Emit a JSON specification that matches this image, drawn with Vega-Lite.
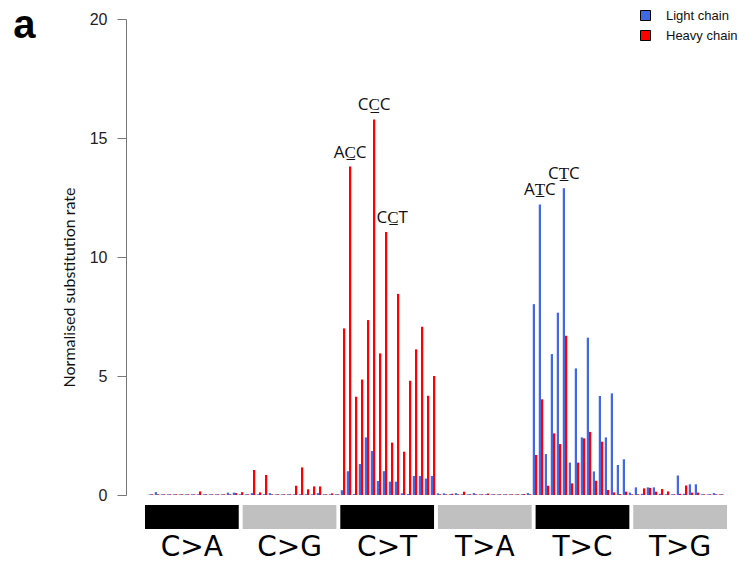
{
  "$schema": "https://vega.github.io/schema/vega-lite/v6.json",
  "padding": {"left": 13, "top": 6, "right": 5, "bottom": 3},
  "background": "white",
  "title": {"text": "a", "anchor": "start", "frame": "bounds", "fontSize": 40, "fontWeight": "bold", "font": "Liberation Sans", "color": "#000", "baseline": "top", "offset": -37, "dx": -48},
  "datasets": {
    "subs": [
      {"id": "C>A ACA", "Light chain": 0.03, "Heavy chain": 0.03},
      {"id": "C>A ACC", "Light chain": 0.12, "Heavy chain": 0.03},
      {"id": "C>A ACG", "Light chain": 0.03, "Heavy chain": 0.03},
      {"id": "C>A ACT", "Light chain": 0.03, "Heavy chain": 0.03},
      {"id": "C>A CCA", "Light chain": 0.03, "Heavy chain": 0.03},
      {"id": "C>A CCC", "Light chain": 0.03, "Heavy chain": 0.03},
      {"id": "C>A CCG", "Light chain": 0.03, "Heavy chain": 0.03},
      {"id": "C>A CCT", "Light chain": 0.03, "Heavy chain": 0.03},
      {"id": "C>A GCA", "Light chain": 0.03, "Heavy chain": 0.15},
      {"id": "C>A GCC", "Light chain": 0.03, "Heavy chain": 0.03},
      {"id": "C>A GCG", "Light chain": 0.03, "Heavy chain": 0.03},
      {"id": "C>A GCT", "Light chain": 0.03, "Heavy chain": 0.03},
      {"id": "C>A TCA", "Light chain": 0.03, "Heavy chain": 0.03},
      {"id": "C>A TCC", "Light chain": 0.1, "Heavy chain": 0.03},
      {"id": "C>A TCG", "Light chain": 0.1, "Heavy chain": 0.08},
      {"id": "C>A TCT", "Light chain": 0.03, "Heavy chain": 0.12},
      {"id": "C>G ACA", "Light chain": 0.03, "Heavy chain": 0.03},
      {"id": "C>G ACC", "Light chain": 0.08, "Heavy chain": 1.05},
      {"id": "C>G ACG", "Light chain": 0.03, "Heavy chain": 0.11},
      {"id": "C>G ACT", "Light chain": 0.03, "Heavy chain": 0.84},
      {"id": "C>G CCA", "Light chain": 0.08, "Heavy chain": 0.03},
      {"id": "C>G CCC", "Light chain": 0.03, "Heavy chain": 0.03},
      {"id": "C>G CCG", "Light chain": 0.03, "Heavy chain": 0.03},
      {"id": "C>G CCT", "Light chain": 0.03, "Heavy chain": 0.03},
      {"id": "C>G GCA", "Light chain": 0.03, "Heavy chain": 0.39},
      {"id": "C>G GCC", "Light chain": 0.03, "Heavy chain": 1.16},
      {"id": "C>G GCG", "Light chain": 0.03, "Heavy chain": 0.24},
      {"id": "C>G GCT", "Light chain": 0.03, "Heavy chain": 0.36},
      {"id": "C>G TCA", "Light chain": 0.08, "Heavy chain": 0.36},
      {"id": "C>G TCC", "Light chain": 0.03, "Heavy chain": 0.03},
      {"id": "C>G TCG", "Light chain": 0.03, "Heavy chain": 0.07},
      {"id": "C>G TCT", "Light chain": 0.03, "Heavy chain": 0.03},
      {"id": "C>T ACA", "Light chain": 0.2, "Heavy chain": 7.0},
      {"id": "C>T ACC", "Light chain": 1.0, "Heavy chain": 13.8},
      {"id": "C>T ACG", "Light chain": 0.04, "Heavy chain": 4.13},
      {"id": "C>T ACT", "Light chain": 1.3, "Heavy chain": 4.85},
      {"id": "C>T CCA", "Light chain": 2.42, "Heavy chain": 7.35},
      {"id": "C>T CCC", "Light chain": 1.85, "Heavy chain": 15.78},
      {"id": "C>T CCG", "Light chain": 0.59, "Heavy chain": 5.95},
      {"id": "C>T CCT", "Light chain": 1.0, "Heavy chain": 11.05},
      {"id": "C>T GCA", "Light chain": 0.56, "Heavy chain": 2.2},
      {"id": "C>T GCC", "Light chain": 0.56, "Heavy chain": 8.45},
      {"id": "C>T GCG", "Light chain": 0.07, "Heavy chain": 1.82},
      {"id": "C>T GCT", "Light chain": 0.04, "Heavy chain": 4.8},
      {"id": "C>T TCA", "Light chain": 0.8, "Heavy chain": 6.12},
      {"id": "C>T TCC", "Light chain": 0.8, "Heavy chain": 7.07},
      {"id": "C>T TCG", "Light chain": 0.69, "Heavy chain": 4.17},
      {"id": "C>T TCT", "Light chain": 0.8, "Heavy chain": 5.0},
      {"id": "T>A ATA", "Light chain": 0.07, "Heavy chain": 0.03},
      {"id": "T>A ATC", "Light chain": 0.07, "Heavy chain": 0.03},
      {"id": "T>A ATG", "Light chain": 0.03, "Heavy chain": 0.05},
      {"id": "T>A ATT", "Light chain": 0.08, "Heavy chain": 0.03},
      {"id": "T>A CTA", "Light chain": 0.03, "Heavy chain": 0.14},
      {"id": "T>A CTC", "Light chain": 0.03, "Heavy chain": 0.03},
      {"id": "T>A CTG", "Light chain": 0.08, "Heavy chain": 0.03},
      {"id": "T>A CTT", "Light chain": 0.03, "Heavy chain": 0.03},
      {"id": "T>A GTA", "Light chain": 0.03, "Heavy chain": 0.06},
      {"id": "T>A GTC", "Light chain": 0.03, "Heavy chain": 0.03},
      {"id": "T>A GTG", "Light chain": 0.03, "Heavy chain": 0.03},
      {"id": "T>A GTT", "Light chain": 0.03, "Heavy chain": 0.03},
      {"id": "T>A TTA", "Light chain": 0.03, "Heavy chain": 0.03},
      {"id": "T>A TTC", "Light chain": 0.03, "Heavy chain": 0.03},
      {"id": "T>A TTG", "Light chain": 0.03, "Heavy chain": 0.04},
      {"id": "T>A TTT", "Light chain": 0.08, "Heavy chain": 0.03},
      {"id": "T>C ATA", "Light chain": 8.02, "Heavy chain": 1.68},
      {"id": "T>C ATC", "Light chain": 12.21, "Heavy chain": 4.02},
      {"id": "T>C ATG", "Light chain": 1.72, "Heavy chain": 0.39},
      {"id": "T>C ATT", "Light chain": 5.92, "Heavy chain": 2.59},
      {"id": "T>C CTA", "Light chain": 7.66, "Heavy chain": 2.14},
      {"id": "T>C CTC", "Light chain": 12.89, "Heavy chain": 6.69},
      {"id": "T>C CTG", "Light chain": 1.36, "Heavy chain": 0.49},
      {"id": "T>C CTT", "Light chain": 5.32, "Heavy chain": 1.36},
      {"id": "T>C GTA", "Light chain": 2.42, "Heavy chain": 2.38},
      {"id": "T>C GTC", "Light chain": 6.61, "Heavy chain": 2.65},
      {"id": "T>C GTG", "Light chain": 0.99, "Heavy chain": 0.6},
      {"id": "T>C GTT", "Light chain": 4.16, "Heavy chain": 2.24},
      {"id": "T>C TTA", "Light chain": 2.42, "Heavy chain": 0.21},
      {"id": "T>C TTC", "Light chain": 4.27, "Heavy chain": 0.11},
      {"id": "T>C TTG", "Light chain": 1.26, "Heavy chain": 0.04},
      {"id": "T>C TTT", "Light chain": 1.5, "Heavy chain": 0.14},
      {"id": "T>G ATA", "Light chain": 0.1, "Heavy chain": 0.03},
      {"id": "T>G ATC", "Light chain": 0.32, "Heavy chain": 0.03},
      {"id": "T>G ATG", "Light chain": 0.05, "Heavy chain": 0.28},
      {"id": "T>G ATT", "Light chain": 0.32, "Heavy chain": 0.3},
      {"id": "T>G CTA", "Light chain": 0.32, "Heavy chain": 0.14},
      {"id": "T>G CTC", "Light chain": 0.05, "Heavy chain": 0.25},
      {"id": "T>G CTG", "Light chain": 0.03, "Heavy chain": 0.15},
      {"id": "T>G CTT", "Light chain": 0.03, "Heavy chain": 0.03},
      {"id": "T>G GTA", "Light chain": 0.82, "Heavy chain": 0.05},
      {"id": "T>G GTC", "Light chain": 0.05, "Heavy chain": 0.4},
      {"id": "T>G GTG", "Light chain": 0.45, "Heavy chain": 0.1},
      {"id": "T>G GTT", "Light chain": 0.45, "Heavy chain": 0.1},
      {"id": "T>G TTA", "Light chain": 0.03, "Heavy chain": 0.03},
      {"id": "T>G TTC", "Light chain": 0.03, "Heavy chain": 0.03},
      {"id": "T>G TTG", "Light chain": 0.08, "Heavy chain": 0.03},
      {"id": "T>G TTT", "Light chain": 0.03, "Heavy chain": 0.03}
    ],
    "labels": [
      {"id": "C>T ACC", "chain": "Heavy chain", "rate": 13.8, "label": "AC̲C", "shift": "none"},
      {"id": "C>T CCC", "chain": "Heavy chain", "rate": 15.78, "label": "CC̲C", "shift": "none"},
      {"id": "C>T CCT", "chain": "Heavy chain", "rate": 11.05, "label": "CC̲T", "shift": "right"},
      {"id": "T>C ATC", "chain": "Light chain", "rate": 12.21, "label": "AT̲C", "shift": "none"},
      {"id": "T>C CTC", "chain": "Light chain", "rate": 12.89, "label": "CT̲C", "shift": "none"}
    ],
    "types": [
      {"sub": "C>A", "shade": "dark"},
      {"sub": "C>G", "shade": "light"},
      {"sub": "C>T", "shade": "dark"},
      {"sub": "T>A", "shade": "light"},
      {"sub": "T>C", "shade": "dark"},
      {"sub": "T>G", "shade": "light"}
    ]
  },
  "resolve": {"scale": {"color": "independent", "x": "independent"}, "legend": {"color": "independent"}},
  "vconcat": [
    {
      "width": 582,
      "height": 476,
      "layer": [
        {
          "data": {"name": "subs"},
          "transform": [{"fold": ["Light chain", "Heavy chain"], "as": ["chain", "rate"]}],
          "mark": {"type": "bar"},
          "encoding": {
            "x": {"field": "id", "type": "nominal", "sort": null, "scale": {"paddingInner": 0.25, "paddingOuter": 0.625}, "axis": null},
            "xOffset": {"field": "chain", "type": "nominal", "sort": ["Light chain", "Heavy chain"]},
            "y": {"field": "rate", "type": "quantitative", "scale": {"domain": [0, 20]},
              "axis": {"values": [0, 5, 10, 15, 20], "offset": 19, "tickSize": 9, "labelPadding": 10, "labelFontSize": 16, "labelFont": "Liberation Sans", "labelColor": "#222", "domainColor": "#777", "tickColor": "#777", "grid": false, "title": "Normalised substitution rate", "titleFontSize": 16, "titleFont": "Lato", "titleFontWeight": "normal", "titleColor": "#111", "titlePadding": 12, "titleY": 268}},
            "color": {"field": "chain", "type": "nominal", "scale": {"domain": ["Light chain", "Heavy chain"], "range": ["#4169e1", "#ff0000"]},
              "legend": {"orient": "none", "legendX": 494, "legendY": -10, "title": null, "symbolType": "square", "symbolSize": 100, "symbolStrokeColor": "#000", "symbolStrokeWidth": 1, "symbolOpacity": 1, "labelFontSize": 13, "labelFont": "Liberation Sans", "labelColor": "#111", "rowPadding": 5, "labelOffset": 14, "padding": 0}}
          }
        },
        {
          "data": {"name": "labels"},
          "transform": [{"filter": "datum.shift == 'none'"}],
          "mark": {"type": "text", "baseline": "alphabetic", "dy": -9, "fontSize": 17, "font": "Open Sans", "color": "#111"},
          "encoding": {
            "x": {"field": "id", "type": "nominal", "sort": null},
            "xOffset": {"field": "chain", "type": "nominal", "sort": ["Light chain", "Heavy chain"]},
            "y": {"field": "rate", "type": "quantitative"},
            "text": {"field": "label"}
          }
        },
        {
          "data": {"name": "labels"},
          "transform": [{"filter": "datum.shift == 'right'"}],
          "mark": {"type": "text", "baseline": "alphabetic", "dy": -9, "dx": 6, "fontSize": 17, "font": "Open Sans", "color": "#111"},
          "encoding": {
            "x": {"field": "id", "type": "nominal", "sort": null},
            "xOffset": {"field": "chain", "type": "nominal", "sort": ["Light chain", "Heavy chain"]},
            "y": {"field": "rate", "type": "quantitative"},
            "text": {"field": "label"}
          }
        }
      ]
    },
    {
      "width": 582,
      "height": 24,
      "data": {"name": "types"},
      "mark": {"type": "bar"},
      "encoding": {
        "x": {"field": "sub", "type": "nominal", "sort": null, "scale": {"paddingInner": 0.04, "paddingOuter": 0},
          "axis": {"orient": "bottom", "title": null, "ticks": false, "domain": false, "labelFontSize": 28, "labelPadding": 4, "labelAngle": 0, "labelFont": "DejaVu Sans", "labelColor": "#000"}},
        "color": {"field": "shade", "type": "nominal", "scale": {"domain": ["dark", "light"], "range": ["#000000", "#c0c0c0"]}, "legend": null}
      }
    }
  ],
  "spacing": 2,
  "config": {"view": {"stroke": null}}
}
